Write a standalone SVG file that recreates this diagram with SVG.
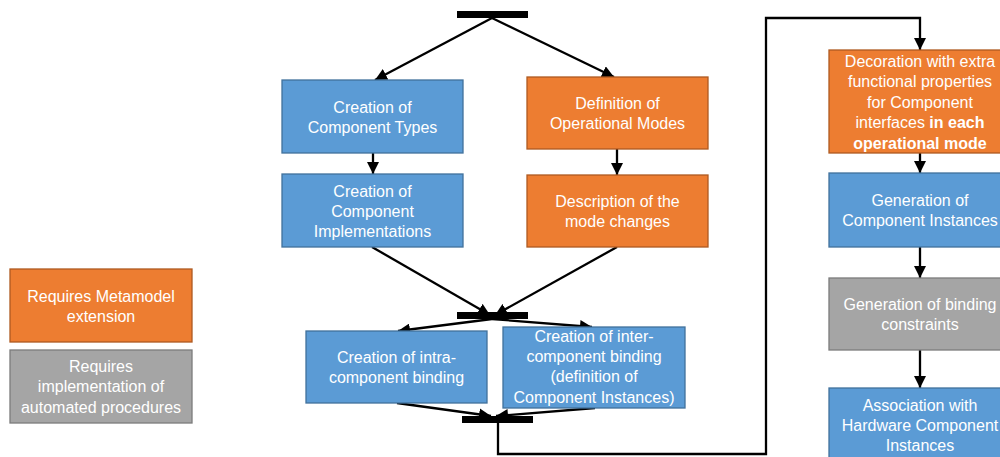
<svg xmlns="http://www.w3.org/2000/svg" width="1000" height="457" viewBox="0 0 1000 457">
<defs>
<style>
.b{fill:#5B9BD5;stroke:#41719C;stroke-width:1.3}
.o{fill:#ED7D31;stroke:#AE5A21;stroke-width:1.3}
.g{fill:#A5A5A5;stroke:#7B7B7B;stroke-width:1.3}
text{font-family:"Liberation Sans",Arial,sans-serif;font-size:16px;fill:#fff;text-anchor:middle}
.bold{font-weight:bold}
.c{fill:none;stroke:#000;stroke-width:2.3}
.bar{fill:#000}
</style>
<marker id="ah" markerUnits="userSpaceOnUse" markerWidth="12" markerHeight="12" viewBox="0 0 12 12" refX="12" refY="6" orient="auto">
<path d="M0,0 L12,6 L0,12 z" fill="#000"/>
</marker>
</defs>
<rect width="1000" height="457" fill="#fff"/>

<g id="connectors">
<path class="c" d="M492,18 L375,80" marker-end="url(#ah)"/>
<path class="c" d="M492,18 L614,77" marker-end="url(#ah)"/>
<path class="c" d="M373,153 V174" marker-end="url(#ah)"/>
<path class="c" d="M617,149 V175" marker-end="url(#ah)"/>
<path class="c" d="M372,247 L490,315" marker-end="url(#ah)"/>
<path class="c" d="M617,247 L495,315" marker-end="url(#ah)"/>
<path class="c" d="M492,319 L398,331" marker-end="url(#ah)"/>
<path class="c" d="M492,319 L592,327" marker-end="url(#ah)"/>
<path class="c" d="M397,403 L491,416" marker-end="url(#ah)"/>
<path class="c" d="M595,408 L496,416" marker-end="url(#ah)"/>
<path class="c" stroke-width="2" d="M498,423 V454 H766 V18 H920 V50" marker-end="url(#ah)"/>
<path class="c" d="M920,153 V173" marker-end="url(#ah)"/>
<path class="c" d="M920,247 V278" marker-end="url(#ah)"/>
<path class="c" d="M920,350 V388" marker-end="url(#ah)"/>
</g>

<g id="bar-fork"><rect class="bar" x="457" y="11" width="71" height="7"/></g>
<g id="bar-join"><rect class="bar" x="457" y="312" width="71" height="7"/></g>
<g id="bar-join2"><rect class="bar" x="462" y="416" width="71" height="7"/></g>

<g id="types"><rect class="b" x="282" y="80" width="181" height="73"/>
<text x="372.5" y="113">Creation of</text><text x="372.5" y="133">Component Types</text></g>

<g id="impl"><rect class="b" x="282" y="174" width="181" height="73"/>
<text x="372.5" y="197">Creation of</text><text x="372.5" y="217">Component</text><text x="372.5" y="237">Implementations</text></g>

<g id="modes"><rect class="o" x="527" y="77" width="181" height="72"/>
<text x="617.5" y="109">Definition of</text><text x="617.5" y="129">Operational Modes</text></g>

<g id="changes"><rect class="o" x="527" y="175" width="181" height="72"/>
<text x="617.5" y="207">Description of the</text><text x="617.5" y="227">mode changes</text></g>

<g id="intra"><rect class="b" x="306" y="331" width="181" height="72"/>
<text x="396.5" y="363">Creation of intra-</text><text x="396.5" y="383">component binding</text></g>

<g id="inter"><rect class="b" x="503" y="327" width="182" height="81"/>
<text x="594" y="342">Creation of inter-</text><text x="594" y="362">component binding</text><text x="594" y="382">(definition of</text><text x="594" y="403">Component Instances)</text></g>

<g id="decoration"><rect class="o" x="829" y="50" width="182" height="103"/>
<text x="920" y="67">Decoration with extra</text><text x="920" y="87">functional properties</text><text x="920" y="108">for Component</text><text x="920" y="128">interfaces <tspan class="bold">in each</tspan></text><text x="920" y="149" class="bold">operational mode</text></g>

<g id="instances"><rect class="b" x="829" y="173" width="182" height="74"/>
<text x="920" y="206">Generation of</text><text x="920" y="226">Component Instances</text></g>

<g id="constraints"><rect class="g" x="829" y="278" width="182" height="72"/>
<text x="920" y="310">Generation of binding</text><text x="920" y="330">constraints</text></g>

<g id="hardware"><rect class="b" x="829" y="388" width="182" height="80"/>
<text x="920" y="411">Association with</text><text x="920" y="431">Hardware Component</text><text x="920" y="451">Instances</text></g>

<g id="legend-meta"><rect class="o" x="10" y="269" width="182" height="73"/>
<text x="101" y="302">Requires Metamodel</text><text x="101" y="322">extension</text></g>

<g id="legend-auto"><rect class="g" x="10" y="350" width="182" height="73"/>
<text x="101" y="372">Requires</text><text x="101" y="392">implementation of</text><text x="101" y="413">automated procedures</text></g>
</svg>
